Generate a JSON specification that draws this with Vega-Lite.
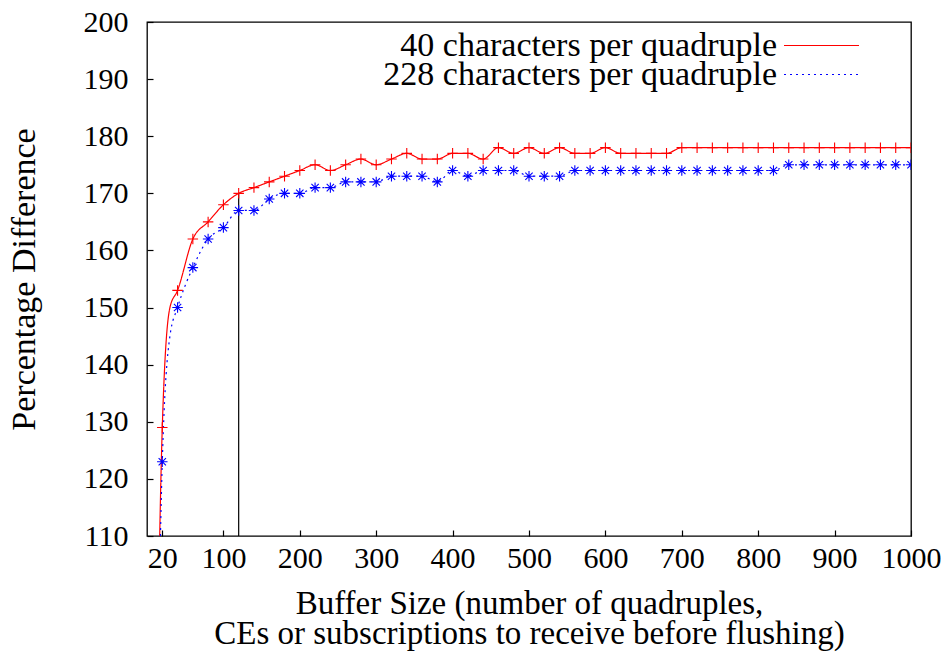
{
  "$schema": "https://vega.github.io/schema/vega-lite/v6.json",
  "width": 764,
  "height": 514,
  "autosize": {"type": "none"},
  "padding": {"left": 147, "top": 22, "right": 33, "bottom": 119},
  "background": "white",
  "config": {
    "font": "Liberation Serif",
    "view": {"stroke": "black", "strokeWidth": 1.3},
    "axis": {
      "grid": false,
      "domain": false,
      "tickColor": "black",
      "tickWidth": 1.2,
      "tickSize": -6,
      "labelColor": "black",
      "labelFontSize": 30,
      "labelOverlap": false,
      "labelBound": false,
      "labelFlush": false,
      "titleColor": "black",
      "titleFontSize": 34,
      "titleFontWeight": "normal",
      "labelFont": "Liberation Serif",
      "titleFont": "Liberation Serif"
    },
    "legend": {
      "labelFont": "Liberation Serif",
      "orient": "none",
      "legendX": 636,
      "title": null,
      "symbolType": "stroke",
      "symbolSize": 5625,
      "symbolStrokeWidth": 1.2,
      "labelFontSize": 34,
      "labelColor": "black",
      "labelAlign": "right",
      "labelOffset": -83,
      "labelLimit": 0,
      "padding": 0
    }
  },
  "data": {
    "values": [
      {"x": 10, "y": 55, "s": "40 characters per quadruple"},
      {"x": 20, "y": 129, "s": "40 characters per quadruple"},
      {"x": 30, "y": 150, "s": "40 characters per quadruple"},
      {"x": 40, "y": 153, "s": "40 characters per quadruple"},
      {"x": 60, "y": 162, "s": "40 characters per quadruple"},
      {"x": 80, "y": 165, "s": "40 characters per quadruple"},
      {"x": 100, "y": 168, "s": "40 characters per quadruple"},
      {"x": 120, "y": 170, "s": "40 characters per quadruple"},
      {"x": 140, "y": 171, "s": "40 characters per quadruple"},
      {"x": 160, "y": 172, "s": "40 characters per quadruple"},
      {"x": 180, "y": 173, "s": "40 characters per quadruple"},
      {"x": 200, "y": 174, "s": "40 characters per quadruple"},
      {"x": 220, "y": 175, "s": "40 characters per quadruple"},
      {"x": 240, "y": 174, "s": "40 characters per quadruple"},
      {"x": 260, "y": 175, "s": "40 characters per quadruple"},
      {"x": 280, "y": 176, "s": "40 characters per quadruple"},
      {"x": 300, "y": 175, "s": "40 characters per quadruple"},
      {"x": 320, "y": 176, "s": "40 characters per quadruple"},
      {"x": 340, "y": 177, "s": "40 characters per quadruple"},
      {"x": 360, "y": 176, "s": "40 characters per quadruple"},
      {"x": 380, "y": 176, "s": "40 characters per quadruple"},
      {"x": 400, "y": 177, "s": "40 characters per quadruple"},
      {"x": 420, "y": 177, "s": "40 characters per quadruple"},
      {"x": 440, "y": 176, "s": "40 characters per quadruple"},
      {"x": 460, "y": 178, "s": "40 characters per quadruple"},
      {"x": 480, "y": 177, "s": "40 characters per quadruple"},
      {"x": 500, "y": 178, "s": "40 characters per quadruple"},
      {"x": 520, "y": 177, "s": "40 characters per quadruple"},
      {"x": 540, "y": 178, "s": "40 characters per quadruple"},
      {"x": 560, "y": 177, "s": "40 characters per quadruple"},
      {"x": 580, "y": 177, "s": "40 characters per quadruple"},
      {"x": 600, "y": 178, "s": "40 characters per quadruple"},
      {"x": 620, "y": 177, "s": "40 characters per quadruple"},
      {"x": 640, "y": 177, "s": "40 characters per quadruple"},
      {"x": 660, "y": 177, "s": "40 characters per quadruple"},
      {"x": 680, "y": 177, "s": "40 characters per quadruple"},
      {"x": 700, "y": 178, "s": "40 characters per quadruple"},
      {"x": 720, "y": 178, "s": "40 characters per quadruple"},
      {"x": 740, "y": 178, "s": "40 characters per quadruple"},
      {"x": 760, "y": 178, "s": "40 characters per quadruple"},
      {"x": 780, "y": 178, "s": "40 characters per quadruple"},
      {"x": 800, "y": 178, "s": "40 characters per quadruple"},
      {"x": 820, "y": 178, "s": "40 characters per quadruple"},
      {"x": 840, "y": 178, "s": "40 characters per quadruple"},
      {"x": 860, "y": 178, "s": "40 characters per quadruple"},
      {"x": 880, "y": 178, "s": "40 characters per quadruple"},
      {"x": 900, "y": 178, "s": "40 characters per quadruple"},
      {"x": 920, "y": 178, "s": "40 characters per quadruple"},
      {"x": 940, "y": 178, "s": "40 characters per quadruple"},
      {"x": 960, "y": 178, "s": "40 characters per quadruple"},
      {"x": 980, "y": 178, "s": "40 characters per quadruple"},
      {"x": 1000, "y": 178, "s": "40 characters per quadruple"},
      {"x": 10, "y": 48, "s": "228 characters per quadruple"},
      {"x": 20, "y": 123, "s": "228 characters per quadruple"},
      {"x": 30, "y": 145, "s": "228 characters per quadruple"},
      {"x": 40, "y": 150, "s": "228 characters per quadruple"},
      {"x": 60, "y": 157, "s": "228 characters per quadruple"},
      {"x": 80, "y": 162, "s": "228 characters per quadruple"},
      {"x": 100, "y": 164, "s": "228 characters per quadruple"},
      {"x": 120, "y": 167, "s": "228 characters per quadruple"},
      {"x": 140, "y": 167, "s": "228 characters per quadruple"},
      {"x": 160, "y": 169, "s": "228 characters per quadruple"},
      {"x": 180, "y": 170, "s": "228 characters per quadruple"},
      {"x": 200, "y": 170, "s": "228 characters per quadruple"},
      {"x": 220, "y": 171, "s": "228 characters per quadruple"},
      {"x": 240, "y": 171, "s": "228 characters per quadruple"},
      {"x": 260, "y": 172, "s": "228 characters per quadruple"},
      {"x": 280, "y": 172, "s": "228 characters per quadruple"},
      {"x": 300, "y": 172, "s": "228 characters per quadruple"},
      {"x": 320, "y": 173, "s": "228 characters per quadruple"},
      {"x": 340, "y": 173, "s": "228 characters per quadruple"},
      {"x": 360, "y": 173, "s": "228 characters per quadruple"},
      {"x": 380, "y": 172, "s": "228 characters per quadruple"},
      {"x": 400, "y": 174, "s": "228 characters per quadruple"},
      {"x": 420, "y": 173, "s": "228 characters per quadruple"},
      {"x": 440, "y": 174, "s": "228 characters per quadruple"},
      {"x": 460, "y": 174, "s": "228 characters per quadruple"},
      {"x": 480, "y": 174, "s": "228 characters per quadruple"},
      {"x": 500, "y": 173, "s": "228 characters per quadruple"},
      {"x": 520, "y": 173, "s": "228 characters per quadruple"},
      {"x": 540, "y": 173, "s": "228 characters per quadruple"},
      {"x": 560, "y": 174, "s": "228 characters per quadruple"},
      {"x": 580, "y": 174, "s": "228 characters per quadruple"},
      {"x": 600, "y": 174, "s": "228 characters per quadruple"},
      {"x": 620, "y": 174, "s": "228 characters per quadruple"},
      {"x": 640, "y": 174, "s": "228 characters per quadruple"},
      {"x": 660, "y": 174, "s": "228 characters per quadruple"},
      {"x": 680, "y": 174, "s": "228 characters per quadruple"},
      {"x": 700, "y": 174, "s": "228 characters per quadruple"},
      {"x": 720, "y": 174, "s": "228 characters per quadruple"},
      {"x": 740, "y": 174, "s": "228 characters per quadruple"},
      {"x": 760, "y": 174, "s": "228 characters per quadruple"},
      {"x": 780, "y": 174, "s": "228 characters per quadruple"},
      {"x": 800, "y": 174, "s": "228 characters per quadruple"},
      {"x": 820, "y": 174, "s": "228 characters per quadruple"},
      {"x": 840, "y": 175, "s": "228 characters per quadruple"},
      {"x": 860, "y": 175, "s": "228 characters per quadruple"},
      {"x": 880, "y": 175, "s": "228 characters per quadruple"},
      {"x": 900, "y": 175, "s": "228 characters per quadruple"},
      {"x": 920, "y": 175, "s": "228 characters per quadruple"},
      {"x": 940, "y": 175, "s": "228 characters per quadruple"},
      {"x": 960, "y": 175, "s": "228 characters per quadruple"},
      {"x": 980, "y": 175, "s": "228 characters per quadruple"},
      {"x": 1000, "y": 175, "s": "228 characters per quadruple"}
    ]
  },
  "resolve": {"scale": {"stroke": "independent"}, "legend": {"stroke": "independent"}},
  "layer": [
    {
      "data": {"values": [{"x": 120, "y": 110, "y2": 170}]},
      "mark": {"type": "rule", "color": "black", "strokeWidth": 1.2},
      "encoding": {
        "x": {
          "field": "x", "type": "quantitative",
          "scale": {"domain": [0, 1000], "nice": false, "zero": false},
          "axis": {
            "values": [20, 100, 200, 300, 400, 500, 600, 700, 800, 900, 1000],
            "format": "d",
            "labelPadding": 13,
            "title": ["Buffer Size (number of quadruples,", "CEs or subscriptions to receive before flushing)"],
            "titleFontSize": 33,
            "titlePadding": 14,
            "titleLineHeight": 30
          }
        },
        "y": {
          "field": "y", "type": "quantitative",
          "scale": {"domain": [110, 200], "nice": false, "zero": false},
          "axis": {
            "values": [110, 115, 120, 125, 130, 135, 140, 145, 150, 155, 160, 165, 170, 175, 180, 185, 190, 195, 200],
            "labelExpr": "datum.value % 10 === 0 ? datum.label : ''",
            "labelPadding": 25,
            "title": "Percentage Difference",
            "titlePadding": 42
          }
        },
        "y2": {"field": "y2"}
      }
    },
    {
      "transform": [{"filter": "datum.s === '40 characters per quadruple'"}],
      "mark": {"type": "line", "interpolate": "monotone", "clip": true, "strokeWidth": 1.2, "strokeDash": [1, 0]},
      "encoding": {
        "x": {"field": "x", "type": "quantitative"},
        "y": {"field": "y", "type": "quantitative"},
        "stroke": {
          "field": "s", "type": "nominal",
          "scale": {"domain": ["40 characters per quadruple"], "range": ["#ff0000"]},
          "legend": {"legendY": -15, "symbolStrokeColor": "#ff0000", "symbolDash": [1, 0]}
        }
      }
    },
    {
      "transform": [{"filter": "datum.s === '228 characters per quadruple'"}],
      "mark": {"type": "line", "interpolate": "monotone", "clip": true, "strokeWidth": 1.2, "strokeDash": [2, 4]},
      "encoding": {
        "x": {"field": "x", "type": "quantitative"},
        "y": {"field": "y", "type": "quantitative"},
        "stroke": {
          "field": "s", "type": "nominal",
          "scale": {"domain": ["228 characters per quadruple"], "range": ["#0000ff"]},
          "legend": {"legendY": 14, "symbolStrokeColor": "#0000ff", "symbolDash": [2, 4]}
        }
      }
    },
    {
      "transform": [{"filter": "datum.x >= 20 && datum.x % 20 === 0 && datum.s === '40 characters per quadruple'"}],
      "mark": {"type": "point", "filled": false, "strokeWidth": 1.1, "size": 110, "clip": true, "opacity": 1, "color": "#ff0000", "shape": "M-1,0L1,0M0,-1L0,1"},
      "encoding": {
        "x": {"field": "x", "type": "quantitative"},
        "y": {"field": "y", "type": "quantitative"}
      }
    },
    {
      "transform": [{"filter": "datum.x >= 20 && datum.x % 20 === 0 && datum.s === '228 characters per quadruple'"}],
      "mark": {"type": "point", "filled": false, "strokeWidth": 1.1, "size": 110, "clip": true, "opacity": 1, "color": "#0000ff", "shape": "M-1,0L1,0M0,-1L0,1M-0.7,-0.7L0.7,0.7M-0.7,0.7L0.7,-0.7"},
      "encoding": {
        "x": {"field": "x", "type": "quantitative"},
        "y": {"field": "y", "type": "quantitative"}
      }
    }
  ]
}
